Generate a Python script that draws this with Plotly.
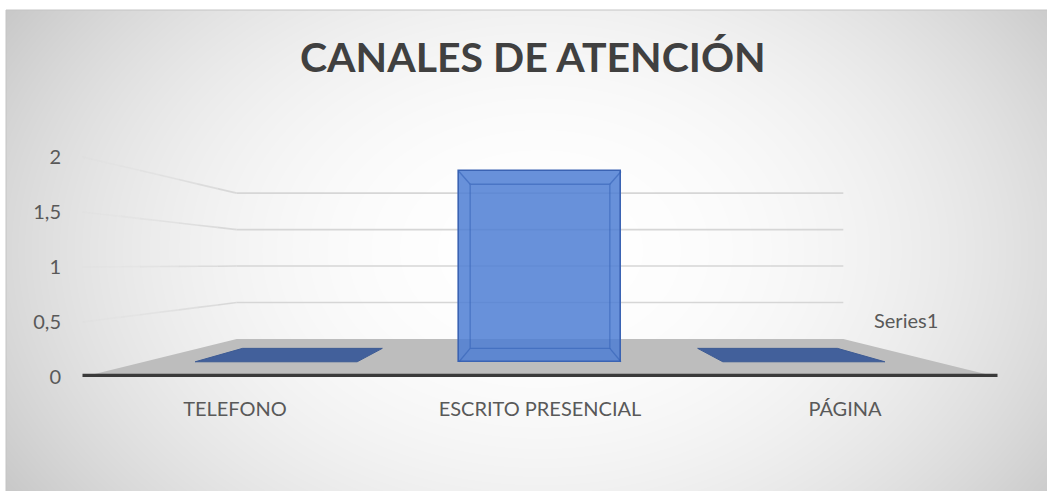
import base64
import struct
import zlib

import numpy as np
import plotly.graph_objects as go

# ---------------- data ----------------
categories = ["TELEFONO", "ESCRITO PRESENCIAL", "PÁGINA"]
values = [0, 2, 0]
series_name = "Series1"
y_tick_values = [0, 0.5, 1, 1.5, 2]
y_tick_labels = ["0", "0,5", "1", "1,5", "2"]
title_text = "CANALES DE ATENCIÓN"

# ---------------- figure geometry / perspective model ----------------
W, H = 1047, 491
n = len(categories)
VP_X = (n - 1) / 2.0          # vanishing point (data units)
VP_Y = 1.025
S_BACK = 0.663                # depth scale of back wall
S_BAR_FRONT = 0.865           # depth scale of bar front faces
S_BAR_BACK = 0.746            # depth scale of bar back faces
BAR_W = 0.614                 # bar width in category units (front plane)

PX_PER_CAT = 305.0
PX_PER_VAL = 110.0
ML = 70
X0 = -(235 - ML) / PX_PER_CAT
X_RANGE = [X0, X0 + (W - ML) / PX_PER_CAT]
Y_RANGE = [-(H - 377) / PX_PER_VAL, 377 / PX_PER_VAL]


def proj(x, v, s):
    return VP_X + (x - VP_X) * s, VP_Y + (v - VP_Y) * s


def poly(points):
    xs = [p[0] for p in points] + [points[0][0]]
    ys = [p[1] for p in points] + [points[0][1]]
    return xs, ys


# ---------------- background radial gradient as PNG ----------------
def png_gray(arr):
    h, w = arr.shape
    raw = b"".join(b"\x00" + arr[r].tobytes() for r in range(h))

    def chunk(t, d):
        c = struct.pack(">I", len(d)) + t + d
        return c + struct.pack(">I", zlib.crc32(t + d) & 0xFFFFFFFF)

    return (b"\x89PNG\r\n\x1a\n"
            + chunk(b"IHDR", struct.pack(">IIBBBBB", w, h, 8, 0, 0, 0, 0))
            + chunk(b"IDAT", zlib.compress(raw, 9))
            + chunk(b"IEND", b""))


BG_X0, BG_Y0 = 6, 10
gw, gh = W - BG_X0, H - BG_Y0
yy, xx = np.mgrid[0:gh, 0:gw]
px = xx + BG_X0
py = yy + BG_Y0
t = np.sqrt(((px - 540) / 560.0) ** 2 + ((py - 250) / 400.0) ** 2)
g = np.clip(255 - 42 * t ** 2.2, 190, 255).astype(np.uint8)
bg_uri = "data:image/png;base64," + base64.b64encode(png_gray(g)).decode()

fig = go.Figure()

# ---------------- walls: gridlines ----------------
grid_rgb = (214, 214, 214)
for v in y_tick_values[1:]:
    a = proj(-0.5, v, 1.0)
    b = proj(-0.5, v, S_BACK)
    steps = 8
    for k in range(steps):
        f0, f1 = k / steps, (k + 1) / steps
        alpha = 0.08 + 0.92 * ((k + 0.5) / steps) ** 1.3
        fig.add_trace(go.Scatter(
            x=[a[0] + (b[0] - a[0]) * f0, a[0] + (b[0] - a[0]) * f1],
            y=[a[1] + (b[1] - a[1]) * f0, a[1] + (b[1] - a[1]) * f1],
            mode="lines", hoverinfo="skip", showlegend=False,
            line=dict(color="rgba(%d,%d,%d,%.2f)" % (*grid_rgb, alpha), width=1.6)))
    c = proj(n - 0.5, v, S_BACK)
    fig.add_trace(go.Scatter(
        x=[b[0], c[0]], y=[b[1], c[1]], mode="lines", hoverinfo="skip",
        showlegend=False, line=dict(color="rgb(%d,%d,%d)" % grid_rgb, width=1.6)))

# ---------------- floor ----------------
fx, fy = poly([proj(-0.5, 0, 1.0), proj(n - 0.5, 0, 1.0),
               proj(n - 0.5, 0, S_BACK), proj(-0.5, 0, S_BACK)])
fig.add_trace(go.Scatter(x=fx, y=fy, mode="lines", fill="toself",
                         fillcolor="#bdbdbd", line=dict(width=0),
                         hoverinfo="skip", showlegend=False))
e0, e1 = proj(-0.5, 0, 1.0), proj(n - 0.5, 0, 1.0)
fig.add_trace(go.Scatter(x=[e0[0], e1[0]], y=[e0[1] + 0.015, e1[1] + 0.015],
                         mode="lines", line=dict(color="#3a3a3a", width=3.2),
                         hoverinfo="skip", showlegend=False))

# ---------------- bars (overlay axes, drawn on top) ----------------
bar_x, bar_base, bar_h, bar_wd, bar_lw = [], [], [], [], []
for i, v in enumerate(values):
    bx, by0 = proj(i, 0, S_BAR_FRONT)
    _, by1 = proj(i, v, S_BAR_FRONT)
    bar_x.append(bx)
    bar_base.append(by0)
    bar_h.append(by1 - by0)
    bar_wd.append(BAR_W * S_BAR_FRONT)
    bar_lw.append(1.6 if v > 0 else 0)

fig.add_trace(go.Bar(
    x=bar_x, y=bar_h, base=bar_base, width=bar_wd, name=series_name,
    customdata=values, hovertemplate="%{customdata}<extra></extra>",
    marker=dict(color="rgba(78,126,212,0.85)",
                line=dict(color="#3a63b3", width=bar_lw)),
    xaxis="x2", yaxis="y2", showlegend=False))

for i, v in enumerate(values):
    hw = BAR_W / 2
    if v < VP_Y:
        # top face visible
        tx, ty = poly([proj(i - hw, v, S_BAR_FRONT), proj(i + hw, v, S_BAR_FRONT),
                       proj(i + hw, v, S_BAR_BACK), proj(i - hw, v, S_BAR_BACK)])
        fig.add_trace(go.Scatter(x=tx, y=ty, mode="lines", fill="toself",
                                 fillcolor="#42609b", line=dict(color="#3d5b94", width=1),
                                 xaxis="x2", yaxis="y2", hoverinfo="skip",
                                 showlegend=False))
    if v > 0:
        edge = dict(color="rgba(50,95,180,0.55)", width=1.3)
        bxs, bys = poly([proj(i - hw, 0, S_BAR_BACK), proj(i + hw, 0, S_BAR_BACK),
                         proj(i + hw, v, S_BAR_BACK), proj(i - hw, v, S_BAR_BACK)])
        fig.add_trace(go.Scatter(x=bxs, y=bys, mode="lines", line=edge,
                                 xaxis="x2", yaxis="y2", hoverinfo="skip",
                                 showlegend=False))
        for cx in (i - hw, i + hw):
            for cv in (0, v):
                p0 = proj(cx, cv, S_BAR_FRONT)
                p1 = proj(cx, cv, S_BAR_BACK)
                fig.add_trace(go.Scatter(x=[p0[0], p1[0]], y=[p0[1], p1[1]],
                                         mode="lines", line=edge,
                                         xaxis="x2", yaxis="y2", hoverinfo="skip",
                                         showlegend=False))

# ---------------- layout ----------------
label_font = dict(family="Lato", size=20, color="#595959")
fig.update_layout(
    template="none",
    width=W, height=H,
    margin=dict(l=ML, r=0, t=0, b=0, pad=0),
    paper_bgcolor="white",
    plot_bgcolor="rgba(0,0,0,0)",
    showlegend=False,
    bargap=0,
    xaxis=dict(range=X_RANGE, domain=[0, 1], anchor="free", position=0.196,
               tickvals=list(range(n)), ticktext=categories, tickfont=label_font,
               showgrid=False, zeroline=False, showline=False, ticks="",
               automargin=False, fixedrange=True),
    yaxis=dict(range=Y_RANGE, domain=[0, 1], tickvals=y_tick_values,
               ticktext=y_tick_labels, tickfont=dict(family="Lato", size=20, color="#595959"),
               showgrid=False, zeroline=False, showline=False, ticks="",
               ticklabelstandoff=8, automargin=False, fixedrange=True),
    xaxis2=dict(overlaying="x", matches="x", visible=False, range=X_RANGE),
    yaxis2=dict(overlaying="y", matches="y", visible=False, range=Y_RANGE),
    images=[dict(source=bg_uri, xref="paper", yref="paper",
                 x=(BG_X0 - ML) / (W - ML), y=1 - BG_Y0 / H,
                 sizex=(W - BG_X0) / (W - ML), sizey=(H - BG_Y0) / H,
                 xanchor="left", yanchor="top", sizing="stretch", layer="below")],
    shapes=[dict(type="rect", xref="paper", yref="paper",
                 x0=(BG_X0 - ML) / (W - ML), x1=1.05, y0=-0.05, y1=1 - BG_Y0 / H,
                 line=dict(color="#c4c4c4", width=1), layer="below")],
    annotations=[
        dict(text=title_text, xref="paper", yref="paper",
             x=(533 - ML) / (W - ML), y=1 - 56 / H, xanchor="center", yanchor="middle",
             showarrow=False,
             font=dict(family="Lato", size=41, color="#404040", weight="bold")),
        dict(text=series_name, xref="x", yref="y", x=2.2, y=0.52,
             xanchor="center", yanchor="middle", showarrow=False, font=label_font),
    ],
)

fig.write_html("out.html", config={"displayModeBar": False},
               post_script="document.body.style.margin='0px';")
